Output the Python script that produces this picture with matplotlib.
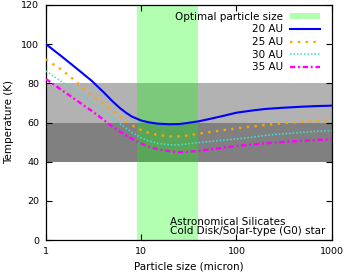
import numpy as np
import matplotlib.pyplot as plt
from matplotlib.ticker import FixedLocator, FixedFormatter, NullLocator
from matplotlib.patches import Patch

# Particle size grid (micron)
size = [1, 1.5, 2, 3, 4, 5, 6, 7, 8, 10, 12, 15, 20, 25, 30, 40, 50, 70,
        100, 150, 200, 300, 500, 700, 1000]

# Temperature (K) for each distance
t_20au = [100, 93.3, 88.4, 81.4, 75.6, 70.8, 67.3, 64.8, 63, 61, 60.1, 59.4, 59.1,
          59.2, 59.7, 60.6, 61.6, 63.2, 65, 66.2, 66.9, 67.5, 68.1, 68.4, 68.6]
t_25au = [92.3, 86.5, 81.5, 74, 69.5, 66, 63, 60.4, 58.6, 56.1, 54.7, 53.6,
          52.9, 52.9, 53.3, 54.3, 55, 56, 57, 58, 58.8, 59.6, 60.4, 60.8, 61.1]
t_30au = [86.3, 80.4, 76.2, 70.3, 66, 62.3, 59.4, 56.9, 55, 52.2, 50.6, 49.3,
          48.6, 48.6, 49, 49.7, 50.2, 50.9, 51.6, 52.6, 53.4, 54.2, 55, 55.5, 55.9]
t_35au = [82.2, 76.2, 72, 66, 61.5, 57.7, 55.2, 53.3, 51.7, 49.3, 47.7, 46.3,
          45.3, 44.9, 45, 45.5, 46.1, 47, 48, 48.8, 49.4, 50, 50.7, 51.1, 51.4]

# optimal particle size range and temperature bands
optimal_range = [9, 39]
band_light = [60, 80]
band_dark = [40, 60]

xticks = [1, 10, 100, 1000]
xtick_labels = ['1', '10', '100', '1000']
yticks = [0, 20, 40, 60, 80, 100, 120]

plt.rcParams['font.family'] = 'DejaVu Sans'
plt.rcParams['font.size'] = 7.5

fig = plt.figure(figsize=(3.45, 2.78), dpi=100)
ax = fig.add_axes([46 / 345, 38 / 278, 285.7 / 345, 235 / 278])

ax.axhspan(*band_light, color='#b2b2b2', lw=0, zorder=0)
ax.axhspan(*band_dark, color='#808080', lw=0, zorder=0)
ax.axvspan(*optimal_range, color='#00ff00', alpha=0.3, lw=0, zorder=1)

ax.plot(size, t_20au, color='#0000ff', lw=1.5, zorder=3)
ax.plot(size, t_25au, color='#ffa500', lw=1.7, ls=(0, (1, 2.3)), zorder=3)
ax.plot(size, t_30au, color='#40e0d0', lw=1.2, ls=(0, (0.9, 1.2)), zorder=3)
ax.plot(size, t_35au, color='#ff00ff', lw=1.7, ls=(0, (2.2, 1.2, 0.8, 1.2)), zorder=3)

ax.set_xscale('log')
ax.set_xlim(1, 1000)
ax.set_ylim(0, 120)
ax.xaxis.set_major_locator(FixedLocator(xticks))
ax.xaxis.set_major_formatter(FixedFormatter(xtick_labels))
ax.xaxis.set_minor_locator(NullLocator())
ax.set_yticks(yticks)
ax.tick_params(direction='in', top=True, right=True, length=4, width=0.8, pad=5,
               labelsize=6.8)
for s in ax.spines.values():
    s.set_linewidth(0.9)

ax.set_xlabel('Particle size (micron)', labelpad=4)
ax.set_ylabel('Temperature (K)', labelpad=5)

ax.text(20, 9.3, 'Astronomical Silicates', va='center', ha='left', zorder=4)
ax.text(20, 4.6, 'Cold Disk/Solar-type (G0) star', va='center', ha='left', zorder=4)

handles = [Patch(facecolor='#00ff00', alpha=0.3, lw=0)] + ax.get_lines()
labels = ['Optimal particle size', '20 AU', '25 AU', '30 AU', '35 AU']
ax.legend(handles, labels, loc='upper right', bbox_to_anchor=(0.959, 0.972),
          frameon=False, markerfirst=False, borderpad=0, borderaxespad=0,
          handlelength=2.9, handletextpad=0.65, labelspacing=0.26, handleheight=0.6)

fig.savefig('out.png', dpi=100)
